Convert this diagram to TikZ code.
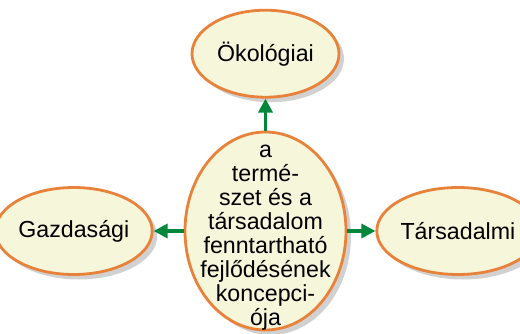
\documentclass[tikz,border=0pt]{standalone}
\usepackage{fontspec}
\setmainfont{Liberation Sans}
\usepackage{xcolor}
\usetikzlibrary{arrows.meta,positioning,shapes.geometric,shadows}
\definecolor{bubblefill}{HTML}{F6F6DA}
\definecolor{bubbleline}{HTML}{E8823A}
\definecolor{arrowgreen}{HTML}{00873C}

\begin{document}
\begin{tikzpicture}[
  node distance=15pt,
  bubble/.style={ellipse,draw=bubbleline,line width=1.4pt,fill=bubblefill,
    minimum width=73.5pt,minimum height=43.5pt,inner sep=0pt,
    font=\fontsize{11.6}{12}\selectfont,
    drop shadow={shadow xshift=2.5pt,shadow yshift=-2.5pt,opacity=0.18,fill=black}},
  hub/.style={bubble,minimum width=80.5pt,minimum height=99pt,inner sep=-15pt,align=center},
  arrow/.style={-{Triangle[length=7pt,width=7pt]},line width=1.6pt,draw=arrowgreen}
]
\useasboundingbox (0,0) rectangle (260pt,166.5pt);
\node[hub] (hub) at (132.75pt,51pt) {\rule{0pt}{13pt}a\\termé-\\szet és a\\társadalom\\fenntartható\\fejlődésének\\koncepci-\\ója};
\node[bubble,above=16pt of hub] (okol) {Ökológiai};
\node[bubble,left=of hub] (gazd) {Gazdasági};
\node[bubble,right=14pt of hub] (tars) {Társadalmi};
\draw[arrow] (hub) -- (okol);
\draw[arrow] (hub) -- (gazd);
\draw[arrow] (hub) -- (tars);
\end{tikzpicture}
\end{document}
